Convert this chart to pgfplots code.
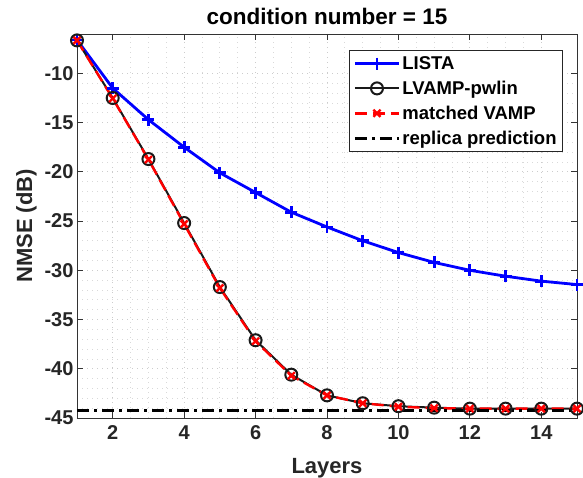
\documentclass[border=0pt]{standalone}
\usepackage{pgfplots}
\pgfplotsset{compat=1.18}
\usepackage{fontspec}
\setmainfont{Liberation Sans}
\begin{document}
\begin{tikzpicture}
\useasboundingbox (-77pt,-60pt) rectangle (506pt,418pt);
\begin{axis}[
  at={(0,0)}, anchor=south west,
  scale only axis, width=500pt, height=384pt,
  xmin=1, xmax=15, ymin=-45, ymax=-6,
  xtick={2,4,...,14}, ytick={-45,-40,...,-10},
  minor x tick num=3, minor y tick num=4,
  grid=both,
  major grid style={dash pattern=on 1pt off 4pt, gray!40, line width=0.8pt},
  minor grid style={dash pattern=on 1pt off 4pt, gray!30, line width=0.8pt},
  tick align=inside, major tick length=6pt, minor tick length=0pt,
  axis line style={line width=0.8pt, black!80},
  tick style={line width=0.8pt, black!80},
  ticklabel style={font=\fontsize{20}{24}\selectfont\bfseries, text=black!85},
  xticklabel style={yshift=-4pt},
  /pgf/number format/assume math mode=true,
  xlabel={Layers}, ylabel={NMSE (dB)},
  label style={font=\fontsize{22}{26}\selectfont\bfseries, text=black!85},
  xlabel style={yshift=-12pt},
  ylabel style={yshift=1pt},
  title={condition number = 15},
  title style={font=\fontsize{22.5}{27}\selectfont\bfseries, yshift=0pt},
  legend style={at={(0.972,0.958)}, anchor=north east,
    font=\fontsize{18.5}{22}\selectfont\bfseries, draw=black!85, line width=0.8pt,
    inner sep=4pt, row sep=6pt, cells={anchor=west}},
  legend cell align=left,
  legend image code/.code={
    \draw[mark repeat=2,mark phase=2,#1] plot coordinates {(0pt,0pt) (22pt,0pt) (44pt,0pt)};},
]
\addplot[blue, line width=2.8pt, mark=+, mark size=6pt, mark options={line width=2.8pt}]
  coordinates {(1,-6.6) (2,-11.5) (3,-14.7) (4,-17.5) (5,-20.1) (6,-22.1)
  (7,-24.1) (8,-25.6) (9,-27.0) (10,-28.2) (11,-29.2) (12,-30.0) (13,-30.6)
  (14,-31.1) (15,-31.45)};
\addlegendentry{LISTA}
\addplot[black!90, line width=2pt, mark=o, mark size=6pt, mark options={line width=2pt}]
  coordinates {(1,-6.65) (2,-12.5) (3,-18.7) (4,-25.2) (5,-31.7) (6,-37.1)
  (7,-40.6) (8,-42.7) (9,-43.5) (10,-43.8) (11,-43.95) (12,-44.05)
  (13,-44.05) (14,-44.05) (15,-44.05)};
\addlegendentry{LVAMP-pwlin}
\addplot[red, line width=2.4pt, dash pattern=on 12pt off 6pt, mark=x, mark size=5pt,
  mark options={solid, line width=2.4pt}]
  coordinates {(1,-6.65) (2,-12.55) (3,-18.75) (4,-25.3) (5,-31.8) (6,-37.2)
  (7,-40.7) (8,-42.7) (9,-43.5) (10,-43.85) (11,-44.0) (12,-44.05)
  (13,-44.05) (14,-44.05) (15,-44.05)};
\addlegendentry{matched VAMP}
\addplot[black, line width=2.8pt, dash pattern=on 12pt off 5pt on 3pt off 5pt]
  coordinates {(1,-44.2) (15,-44.2)};
\addlegendentry{replica prediction}
\end{axis}
\end{tikzpicture}
\end{document}
